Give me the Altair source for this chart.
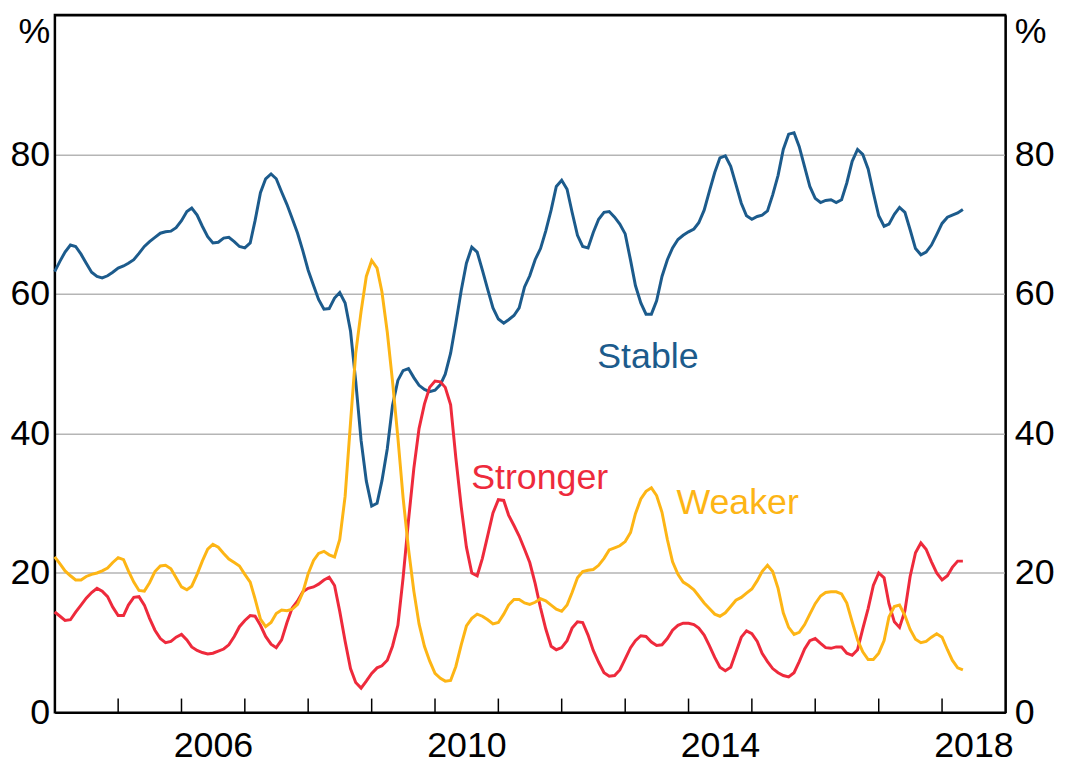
import altair as alt
import pandas as pd

# ---- data (monthly, from Jan 2004) ----
stable = [63.2, 64.7, 66.0, 67.0, 66.8, 65.7, 64.4, 63.1, 62.5, 62.3, 62.6, 63.1,
          63.7, 64.0, 64.4, 64.9, 65.8, 66.8, 67.5, 68.1, 68.7, 68.9, 69.0, 69.5,
          70.5, 71.8, 72.3, 71.3, 69.7, 68.2, 67.3, 67.4, 68.0, 68.1, 67.5, 66.8,
          66.6, 67.3, 70.5, 74.5, 76.5, 77.2, 76.5, 74.6, 72.8, 70.8, 68.7, 66.2,
          63.4, 61.2, 59.2, 57.8, 57.9, 59.4, 60.2, 58.7, 54.7, 47.5, 39.0, 33.2,
          29.6, 30.0, 33.2, 37.8, 44.0, 47.6, 49.0, 49.3, 48.0, 46.9, 46.3, 46.0,
          46.2, 47.0, 48.5, 51.5, 55.8, 60.5, 64.4, 66.7, 66.0, 63.4, 60.6, 58.0,
          56.4, 55.8, 56.3, 56.9, 58.0, 61.0, 62.6, 64.9, 66.5, 69.0, 72.0, 75.4,
          76.3, 75.0, 71.7, 68.4, 66.8, 66.6, 68.8, 70.7, 71.7, 71.8, 71.0, 70.0,
          68.6, 64.8, 61.2, 58.7, 57.1, 57.1, 59.0, 62.5, 64.9, 66.6, 67.8, 68.4,
          68.9, 69.3, 70.2, 72.0, 74.7, 77.4, 79.5, 79.8, 78.3, 75.7, 73.0, 71.2,
          70.7, 71.1, 71.3, 71.9, 74.2, 77.0, 80.7, 82.9, 83.1, 81.1, 78.2, 75.4,
          73.7, 73.1, 73.4, 73.5, 73.1, 73.5, 75.9, 79.0, 80.7, 80.0, 77.9, 74.5,
          71.2, 69.7, 70.0, 71.4, 72.4, 71.7, 69.2, 66.5, 65.6, 66.0, 67.0, 68.5,
          70.1, 71.0, 71.3, 71.6, 72.1]

stronger = [14.4, 13.8, 13.2, 13.3, 14.4, 15.4, 16.4, 17.2, 17.8, 17.4, 16.6, 15.1,
            13.9, 13.9, 15.4, 16.5, 16.6, 15.4, 13.5, 11.8, 10.6, 10.0, 10.2, 10.8,
            11.2, 10.4, 9.4, 8.9, 8.6, 8.4, 8.5, 8.8, 9.1, 9.7, 10.9, 12.3,
            13.2, 13.9, 13.8, 12.5, 10.9, 9.8, 9.3, 10.4, 12.9, 15.0, 16.0, 17.3,
            17.8, 18.0, 18.4, 19.0, 19.4, 18.2, 14.5, 10.2, 6.3, 4.3, 3.5, 4.5,
            5.6, 6.4, 6.7, 7.5, 9.5, 12.5, 19.3, 27.5, 35.0, 40.7, 44.2, 46.6,
            47.5, 47.4, 46.6, 44.1, 36.5, 29.5, 23.7, 20.0, 19.6, 22.1, 25.4, 28.6,
            30.5, 30.4, 28.3, 26.8, 25.3, 23.4, 21.5, 18.5, 15.0, 12.0, 9.5, 9.0,
            9.3, 10.3, 12.1, 13.0, 12.9, 11.1, 8.9, 7.2, 5.7, 5.2, 5.3, 6.1,
            7.7, 9.3, 10.3, 11.0, 10.9, 10.1, 9.6, 9.7, 10.6, 11.8, 12.5, 12.8,
            12.8, 12.6, 12.1, 11.1, 9.6, 7.9, 6.5, 6.0, 6.5, 8.6, 10.8, 11.7,
            11.3, 10.2, 8.5, 7.3, 6.3, 5.7, 5.3, 5.1, 5.7, 7.3, 9.1, 10.3,
            10.6, 9.9, 9.3, 9.2, 9.4, 9.4, 8.5, 8.2, 9.0, 12.0, 14.9, 18.2,
            20.0, 19.3, 15.6, 13.0, 12.2, 14.6, 19.5, 22.9, 24.3, 23.4, 21.6, 20.0,
            19.0, 19.6, 20.8, 21.7, 21.7]

weaker = [22.3, 21.3, 20.3, 19.6, 19.0, 19.0, 19.5, 19.8, 20.0, 20.3, 20.7, 21.5,
          22.2, 21.9, 20.3, 18.7, 17.5, 17.4, 18.6, 20.2, 21.0, 21.1, 20.6, 19.3,
          18.0, 17.6, 18.1, 19.8, 21.7, 23.4, 24.1, 23.7, 22.8, 22.0, 21.5, 21.0,
          19.8, 18.7, 16.3, 13.4, 12.3, 12.9, 14.2, 14.7, 14.6, 14.8, 15.5, 17.2,
          19.9, 21.8, 22.8, 23.1, 22.6, 22.3, 24.8, 31.0, 41.5, 51.5, 57.5, 62.5,
          64.8, 63.7, 60.3, 54.5, 47.5, 39.4, 30.8, 23.5, 17.4, 12.7, 9.5, 7.4,
          5.6, 4.9, 4.5, 4.6, 6.6, 9.7, 12.4, 13.5, 14.1, 13.8, 13.3, 12.7,
          12.9, 14.1, 15.4, 16.2, 16.2, 15.7, 15.5, 15.8, 16.3, 16.0, 15.4, 14.8,
          14.5, 15.4, 17.2, 19.3, 20.2, 20.4, 20.5, 21.1, 22.1, 23.3, 23.6, 23.9,
          24.5, 25.8, 28.5, 30.6, 31.7, 32.2, 31.1, 28.7, 24.8, 21.6, 19.8, 18.7,
          18.2, 17.6, 16.7, 15.7, 14.9, 14.1, 13.8, 14.3, 15.2, 16.1, 16.5, 17.1,
          17.7, 18.9, 20.2, 21.1, 20.2, 17.8, 14.3, 12.2, 11.2, 11.5, 12.6, 14.1,
          15.6, 16.7, 17.2, 17.3, 17.3, 17.0, 15.7, 13.0, 10.4, 8.7, 7.6, 7.6,
          8.5, 10.3, 13.7, 15.2, 15.4, 13.9, 11.9, 10.5, 10.0, 10.2, 10.8, 11.3,
          10.8, 9.0, 7.5, 6.4, 6.1]

series_names = ["Stable", "Stronger", "Weaker"]
series_colors = ["#1c5b8c", "#ee2a3c", "#fdb515"]

label_years = [2006, 2010, 2014, 2018]
tick_years = list(range(2005, 2019))
y_ticks = [0, 20, 40, 60, 80, 100]

# annotation positions (date, value) for series names
annot_dates = ["2013-05-12", "2011-08-27", "2014-10-11"]
annot_values = [49.4, 32.0, 28.5]

# ---- build tables ----
n = len(stable)
dates = pd.date_range("2004-01-01", periods=n, freq="MS").strftime("%Y-%m-%d").tolist()
rows = []
for name, vals in zip(series_names, [stable, stronger, weaker]):
    for d, v in zip(dates, vals):
        rows.append({"date": d, "value": v, "series": name})
df = pd.DataFrame(rows)

ticks_df = pd.DataFrame({"date": [f"{y}-01-01" for y in tick_years],
                         "y0": [0] * len(tick_years), "y1": [2.0] * len(tick_years)})
annot_df = pd.DataFrame({"series": series_names, "date": annot_dates, "value": annot_values})

FONT = "Liberation Sans, Arial, sans-serif"
FS = 36

x_scale = alt.Scale(type="utc",
                    domain=[alt.DateTime(year=2004, month=1, date=1, utc=True),
                            alt.DateTime(year=2019, month=1, date=1, utc=True)])
y_scale = alt.Scale(domain=[0, 100], nice=False)
color_scale = alt.Scale(domain=series_names, range=series_colors)

label_expr = "datum.value == 100 ? '%' : datum.label"
baseline_cond = {"condition": {"test": "datum.value == 100", "value": "top"}, "value": "middle"}
grid_color_cond = {"condition": {"test": "datum.value == 100", "value": "black"}, "value": "#b5b5b5"}
grid_width_cond = {"condition": {"test": "datum.value == 100", "value": 2.5}, "value": 1.5}

x_axis = alt.Axis(values=[alt.DateTime(year=y, month=7, date=1, utc=True) for y in label_years],
                  format="%Y", ticks=False, grid=False, labelPadding=16, title=None,
                  labelFlush=False, labelOverlap=False)

lines = alt.Chart(df).mark_line(strokeWidth=3).encode(
    x=alt.X("date:T", scale=x_scale, axis=x_axis),
    y=alt.Y("value:Q", scale=y_scale,
            axis=alt.Axis(orient="left", values=y_ticks, labelExpr=label_expr,
                          labelBaseline=baseline_cond, grid=True, gridColor=grid_color_cond,
                          gridWidth=grid_width_cond, ticks=False, labelPadding=5, title=None)),
    color=alt.Color("series:N", scale=color_scale, legend=None),
)

year_ticks = alt.Chart(ticks_df).mark_rule(color="black", strokeWidth=1.5).encode(
    x=alt.X("date:T", scale=x_scale),
    y=alt.Y("y0:Q", scale=y_scale,
            axis=alt.Axis(orient="right", values=y_ticks, labelExpr=label_expr,
                          labelBaseline=baseline_cond, grid=False, ticks=False,
                          labelPadding=9, title=None)),
    y2="y1:Q",
)

labels = alt.Chart(annot_df).mark_text(fontSize=FS, font=FONT, align="center",
                                       baseline="alphabetic").encode(
    x=alt.X("date:T", scale=x_scale),
    y=alt.Y("value:Q", scale=y_scale, axis=None),
    text="series:N",
    color=alt.Color("series:N", scale=color_scale, legend=None),
)

chart = alt.layer(lines, year_ticks, labels).resolve_axis(y="independent").properties(
    width=958, height=703,
    autosize=alt.AutoSizeParams(type="none"),
    padding={"left": 47, "top": 4, "right": 52, "bottom": 50},
).configure_view(stroke="black", strokeWidth=2).configure_axis(
    domainColor="black", domainWidth=2, labelColor="black",
    labelFont=FONT, labelFontSize=FS,
)

chart.save("out.html", embed_options={"renderer": "svg", "actions": False})
